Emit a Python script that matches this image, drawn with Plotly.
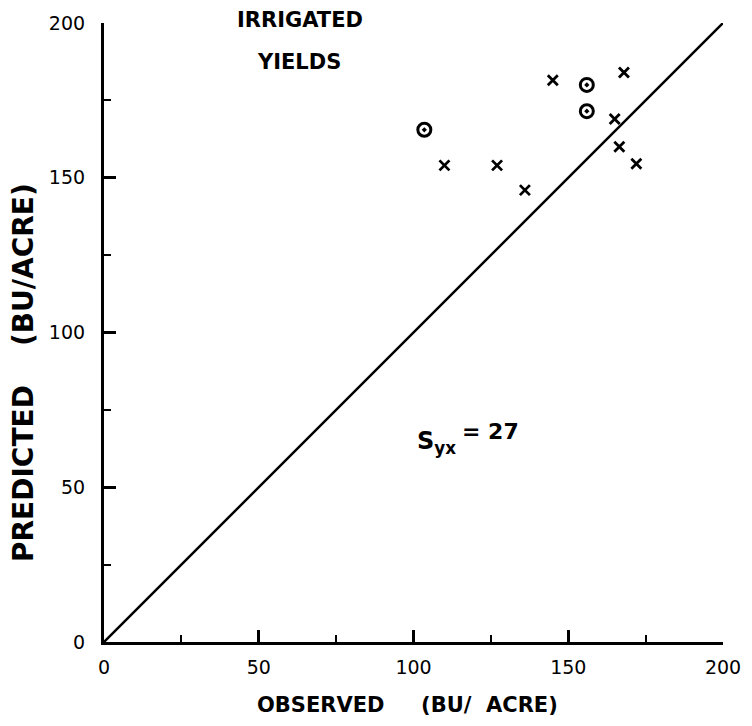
import plotly.graph_objects as go

# Data
x_obs_x = [110, 127, 136, 145, 168, 165, 166.5, 172]
y_pred_x = [154, 154, 146, 181.5, 184, 169, 160, 154.5]
x_obs_o = [103.5, 156, 156]
y_pred_o = [165.5, 180, 171.5]
line_x = [0, 202]
line_y = [0, 202]
ticks = [0, 50, 100, 150, 200]

FONT = "DejaVu Sans"

fig = go.Figure()
fig.add_trace(go.Scatter(x=line_x, y=line_y, mode="lines",
                         line=dict(color="black", width=2.5),
                         cliponaxis=False, showlegend=False, hoverinfo="skip"))
fig.add_trace(go.Scatter(x=x_obs_x, y=y_pred_x, mode="markers",
                         marker=dict(symbol="x-thin", size=10, color="black",
                                     line=dict(color="black", width=2.8)),
                         showlegend=False))
fig.add_trace(go.Scatter(x=x_obs_o, y=y_pred_o, mode="markers",
                         marker=dict(symbol="circle-open-dot", size=13, color="black",
                                     line=dict(color="black", width=3)),
                         showlegend=False))

axis_common = dict(
    range=[0, 200], tickvals=ticks,
    showgrid=False, zeroline=False, showline=True, linecolor="black", linewidth=3,
    ticks="inside", ticklen=12, tickwidth=2.5, tickcolor="black",
    minor=dict(ticks="inside", ticklen=7, tickwidth=2, tickcolor="black", dtick=25, tick0=0),
    tickfont=dict(family=FONT, size=19, color="black"),
)
fig.update_xaxes(**axis_common, ticktext=[str(t) for t in ticks], ticklabelstandoff=6)
fig.update_yaxes(**axis_common, ticktext=[str(t) + "\u00a0\u00a0" for t in ticks])

def ann(text, x, y, size, **kw):
    fig.add_annotation(text=text, xref="paper", yref="paper", x=x, y=y,
                       xanchor="center", yanchor="middle",
                       showarrow=False, font=dict(family=FONT, size=size, color="black", weight="bold"),
                       **kw)

L, T, W = 104, 23, 619
def px(xp): return (xp - L) / W
def py(yp): return (T + W - yp) / W

ann("IRRIGATED", px(300), py(20), 21)
ann("YIELDS", px(299), py(62), 21)
ann("OBSERVED&nbsp;&nbsp;&nbsp;&nbsp;&nbsp;(BU/&nbsp;&nbsp;ACRE)", px(407), py(705), 21)
ann("PREDICTED&nbsp;&nbsp;&nbsp;&nbsp;(BU/ACRE)", px(24), py(373), 28, textangle=-90)
ann("S<sub>yx</sub>", px(437), py(443), 24)
ann("= 27", px(490), py(431), 22)

fig.update_layout(
    width=752, height=726,
    margin=dict(l=104, r=29, t=23, b=84),
    plot_bgcolor="white", paper_bgcolor="white",
    font=dict(family=FONT, color="black"),
)
fig.write_html("out.html")
